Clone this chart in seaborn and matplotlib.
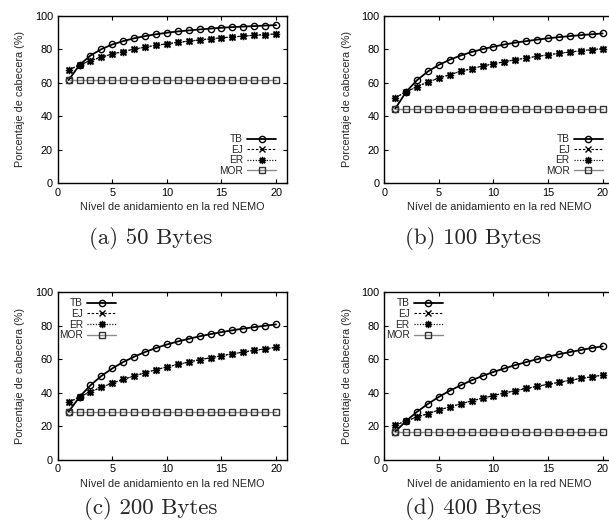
import matplotlib
matplotlib.use("Agg")
import matplotlib.pyplot as plt
import seaborn as sns
import pandas as pd

sns.set_theme(style="ticks")
plt.rcParams['font.family'] = ['Liberation Sans', 'DejaVu Sans']

# ---- data ----
niveles = list(range(1, 21))

tb_50 = [61.5, 70.6, 76.2, 80.0, 82.8, 84.8, 86.5, 87.8, 88.9, 89.8,
         90.6, 91.2, 91.8, 92.3, 92.8, 93.2, 93.5, 93.8, 94.1, 94.4]
ej_50 = [67.5, 70.6, 73.1, 75.2, 77.1, 78.6, 80.0, 81.2, 82.3, 83.2,
         84.1, 84.8, 85.5, 86.2, 86.8, 87.3, 87.8, 88.3, 88.7, 89.1]
er_50 = [67.5, 70.6, 73.1, 75.2, 77.1, 78.6, 80.0, 81.2, 82.3, 83.2,
         84.1, 84.8, 85.5, 86.2, 86.8, 87.3, 87.8, 88.3, 88.7, 89.1]
mor_50 = [61.5] * 20

tb_100 = [44.4, 54.5, 61.5, 66.7, 70.6, 73.7, 76.2, 78.3, 80.0, 81.5,
          82.8, 83.9, 84.8, 85.7, 86.5, 87.2, 87.8, 88.4, 88.9, 89.4]
ej_100 = [51.0, 54.5, 57.6, 60.3, 62.7, 64.8, 66.7, 68.4, 69.9, 71.3,
          72.5, 73.7, 74.7, 75.7, 76.6, 77.5, 78.3, 79.0, 79.7, 80.3]
er_100 = [51.0, 54.5, 57.6, 60.3, 62.7, 64.8, 66.7, 68.4, 69.9, 71.3,
          72.5, 73.7, 74.7, 75.7, 76.6, 77.5, 78.3, 79.0, 79.7, 80.3]
mor_100 = [44.4] * 20

tb_200 = [28.6, 37.5, 44.4, 50.0, 54.5, 58.3, 61.5, 64.3, 66.7, 68.8,
          70.6, 72.2, 73.7, 75.0, 76.2, 77.3, 78.3, 79.2, 80.0, 80.8]
ej_200 = [34.2, 37.5, 40.5, 43.2, 45.7, 47.9, 50.0, 51.9, 53.7, 55.4,
          56.9, 58.3, 59.7, 60.9, 62.1, 63.2, 64.3, 65.3, 66.2, 67.1]
er_200 = [34.2, 37.5, 40.5, 43.2, 45.7, 47.9, 50.0, 51.9, 53.7, 55.4,
          56.9, 58.3, 59.7, 60.9, 62.1, 63.2, 64.3, 65.3, 66.2, 67.1]
mor_200 = [28.6] * 20

tb_400 = [16.7, 23.1, 28.6, 33.3, 37.5, 41.2, 44.4, 47.4, 50.0, 52.4,
          54.5, 56.5, 58.3, 60.0, 61.5, 63.0, 64.3, 65.5, 66.7, 67.7]
ej_400 = [20.6, 23.1, 25.4, 27.5, 29.6, 31.5, 33.3, 35.1, 36.7, 38.3,
          39.8, 41.2, 42.5, 43.8, 45.0, 46.2, 47.4, 48.5, 49.5, 50.5]
er_400 = [20.6, 23.1, 25.4, 27.5, 29.6, 31.5, 33.3, 35.1, 36.7, 38.3,
          39.8, 41.2, 42.5, 43.8, 45.0, 46.2, 47.4, 48.5, 49.5, 50.5]
mor_400 = [16.7] * 20

series_names = ["TB", "EJ", "ER", "MOR"]
captions = ["(a) 50 Bytes", "(b) 100 Bytes", "(c) 200 Bytes", "(d) 400 Bytes"]
xticks = [0, 5, 10, 15, 20]
yticks = [0, 20, 40, 60, 80, 100]
xlabel = "Nível de anidamiento en la red NEMO"
ylabel = "Porcentaje de cabecera (%)"

panels = [
    (tb_50, ej_50, er_50, mor_50),
    (tb_100, ej_100, er_100, mor_100),
    (tb_200, ej_200, er_200, mor_200),
    (tb_400, ej_400, er_400, mor_400),
]

styles = {
    "TB": dict(color="black", marker="o", linestyle="-", lw=1.3, ms=4.5,
               mfc="none", mec="black", mew=1.0),
    "EJ": dict(color="black", marker="x", linestyle=(0, (2.2, 1.6)), lw=0.8, ms=4.2,
               mec="black", mew=1.0),
    "ER": dict(color="black", marker=(8, 2, 0), linestyle=(0, (0.9, 1.3)), lw=0.9, ms=5.2,
               mec="black", mew=1.0),
    "MOR": dict(color="#8a8a8a", marker="s", linestyle="-", lw=1.0, ms=4.3,
                mfc="none", mec="#333333", mew=1.0),
}

W, H = 609, 525
fig = plt.figure(figsize=(W / 100, H / 100), dpi=100)

ax_w = 229.3
ax_h = 167.3
positions = [(57.7, 15.7), (384.3, 15.7), (57.7, 292.3), (384.3, 292.3)]
cap_pos = [(151, 238), (473, 238), (151, 508), (473, 508)]
leg_locs = ["lower right", "lower right", "upper left", "upper left"]

for i, (vals, (px, py)) in enumerate(zip(panels, positions)):
    ax = fig.add_axes([px / W, 1 - (py + ax_h) / H, ax_w / W, ax_h / H])
    for name, v in zip(series_names, vals):
        df = pd.DataFrame({"x": niveles, "y": v})
        st = styles[name]
        sns.lineplot(data=df, x="x", y="y", ax=ax, label=name, color=st["color"],
                     linewidth=st["lw"], marker=st["marker"], markersize=st["ms"],
                     markeredgecolor=st["mec"], markeredgewidth=st["mew"],
                     markerfacecolor=st.get("mfc", st["color"]))
        ln = ax.lines[-1]
        ln.set_linestyle(st["linestyle"])
    ax.set_xlim(0, 21)
    ax.set_ylim(0, 100)
    ax.set_xticks(xticks)
    ax.set_yticks(yticks)
    ax.set_xlabel(xlabel, fontsize=7.8, labelpad=3)
    ax.set_ylabel(ylabel, fontsize=7.8, labelpad=7)
    ax.tick_params(direction="in", top=True, right=True, length=3, width=0.8,
                   labelsize=7.8, pad=3.5, colors="black")
    for s in ax.spines.values():
        s.set_linewidth(1.0)
        s.set_color("black")
    handles = ax.lines[:4]
    if leg_locs[i] == "lower right":
        leg = ax.legend(handles, series_names, loc="lower right", markerfirst=False,
                        frameon=False, fontsize=7.3, handlelength=2.9, handletextpad=0.4,
                        labelspacing=0.06, borderaxespad=0.3,
                        bbox_to_anchor=(0.985, 0.0))
    else:
        leg = ax.legend(handles, series_names, loc="upper left", markerfirst=False,
                        frameon=False, fontsize=7.3, handlelength=2.9, handletextpad=0.4,
                        labelspacing=0.06, borderaxespad=0.2,
                        bbox_to_anchor=(-0.02, 1.0))
    cx, cy = cap_pos[i]
    fig.text(cx / W, 1 - cy / H, captions[i], ha="center", va="center",
             fontsize=16.5, family=["cmr10", "DejaVu Serif"])

fig.savefig("out.png", dpi=100)
